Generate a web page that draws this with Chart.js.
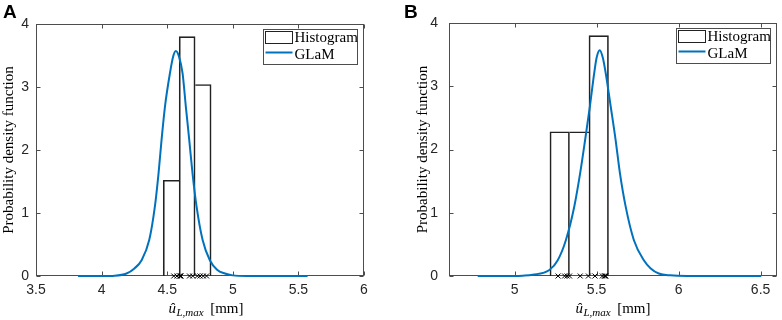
<!DOCTYPE html>
<html>
<head>
<meta charset="utf-8">
<script src="https://cdn.jsdelivr.net/npm/chart.js@4"></script>
<style>
  html, body { margin: 0; padding: 0; background: #fff; }
  #wrap { position: relative; width: 782px; height: 320px; }
  .panel { position: absolute; top: 0; width: 391px; height: 320px; }
</style>
</head>
<body>
<div id="wrap">
  <div class="panel" style="left:0"><canvas id="chartA" width="391" height="320"></canvas></div>
  <div class="panel" style="left:391px"><canvas id="chartB" width="391" height="320"></canvas></div>
</div>
<script>
// --- Data ---
const xTicksA = [3.5, 4, 4.5, 5, 5.5, 6];
const xTicksB = [5, 5.5, 6, 6.5];
const yTicks = [0, 1, 2, 3, 4];

const histEdgesA = [4.470, 4.591, 4.713, 4.835];
const histHeightsA = [1.52, 3.80, 3.04];
const histEdgesB = [5.215, 5.335, 5.453, 5.573];
const histHeightsB = [2.28, 2.28, 3.80];

const samplesA = [4.550, 4.575, 4.595, 4.600, 4.605, 4.670, 4.695, 4.730, 4.750, 4.775, 4.800];
const samplesB = [5.265, 5.305, 5.320, 5.335, 5.400, 5.450, 5.490, 5.535, 5.548, 5.552, 5.556];

const glamXA = [3.82, 4.00, 4.10, 4.19, 4.25, 4.305, 4.363, 4.406, 4.434, 4.457, 4.483, 4.521, 4.545, 4.566,
                4.590, 4.617, 4.642, 4.668, 4.693, 4.724, 4.770, 4.825, 4.880, 4.940, 5.00, 5.10, 5.57];
const glamYA = [0, 0, 0.005, 0.04, 0.12, 0.25, 0.57, 1.10, 1.63, 2.16, 2.69, 3.22, 3.48, 3.57,
                3.48, 3.22, 2.69, 2.16, 1.63, 1.10, 0.57, 0.25, 0.10, 0.04, 0.01, 0, 0];

const glamXB = [4.775, 5.00, 5.05, 5.11, 5.212, 5.263, 5.313, 5.364, 5.400, 5.430, 5.459, 5.485, 5.500, 5.519,
                5.538, 5.556, 5.586, 5.616, 5.642, 5.677, 5.727, 5.788, 5.830, 5.879, 5.950, 6.05, 6.504];
const glamYB = [0, 0, 0.005, 0.02, 0.095, 0.25, 0.57, 1.10, 1.63, 2.15, 2.68, 3.20, 3.45, 3.57,
                3.45, 3.20, 2.68, 2.15, 1.63, 1.10, 0.57, 0.25, 0.12, 0.04, 0.01, 0, 0];

// --- Styles ---
const BLUE = '#0072BD';
const FRAME = '#4d4d4d';
const TICK_FONT = { family: '"Liberation Sans", Arial, sans-serif', size: 14 };
const SERIF = '"Liberation Serif", "Times New Roman", serif';

function pairs(xs, ys) {
  return xs.map((x, i) => ({ x: x, y: ys[i] }));
}

// MATLAB-like box, inward ticks, legend, x label and panel letter
const matlabDecor = {
  id: 'matlabDecor',
  beforeDatasetsDraw(chart) {
    const { ctx, chartArea: ca, scales } = chart;
    ctx.save();
    ctx.strokeStyle = FRAME;
    ctx.lineWidth = 1;
    const l = Math.round(ca.left) + 0.5, r = Math.round(ca.right) - 0.5;
    const t = Math.round(ca.top) + 0.5, b = Math.round(ca.bottom) - 0.5;
    ctx.strokeRect(l, t, r - l, b - t);
    ctx.beginPath();
    scales.x.ticks.forEach(tk => {
      const px = Math.round(scales.x.getPixelForValue(tk.value)) + 0.5;
      ctx.moveTo(px, b); ctx.lineTo(px, b - 4);
      ctx.moveTo(px, t); ctx.lineTo(px, t + 4);
    });
    scales.y.ticks.forEach(tk => {
      const py = Math.round(scales.y.getPixelForValue(tk.value)) + 0.5;
      ctx.moveTo(l, py); ctx.lineTo(l + 4, py);
      ctx.moveTo(r, py); ctx.lineTo(r - 4, py);
    });
    ctx.stroke();
    ctx.restore();
  },
  afterDatasetsDraw(chart) {
    const { ctx, chartArea: ca } = chart;
    const w = 94, h = 35;
    const bx = Math.round(ca.right - 7 - w) + 0.5;
    const by = Math.round(ca.top + 5) + 0.5;
    ctx.save();
    ctx.fillStyle = '#fff';
    ctx.fillRect(bx, by, w, h);
    ctx.strokeStyle = FRAME;
    ctx.lineWidth = 1;
    ctx.strokeRect(bx, by, w, h);
    // histogram swatch
    ctx.strokeStyle = '#222';
    ctx.strokeRect(bx + 2, by + 2, 27, 12);
    // line swatch
    ctx.strokeStyle = BLUE;
    ctx.lineWidth = 2;
    ctx.beginPath();
    ctx.moveTo(bx + 2, by + 23);
    ctx.lineTo(bx + 29, by + 23);
    ctx.stroke();
    ctx.fillStyle = '#000';
    ctx.font = '15px ' + SERIF;
    ctx.textBaseline = 'alphabetic';
    ctx.fillText('Histogram', bx + 31, by + 12.5);
    ctx.fillText('GLaM', bx + 31, by + 29);
    ctx.restore();
  },
  afterDraw(chart, args, opts) {
    const { ctx, chartArea: ca } = chart;
    ctx.save();
    ctx.fillStyle = '#000';
    ctx.textBaseline = 'alphabetic';
    // x label: u-hat with subscript, then [mm]
    const base = 313;
    const fMain = 'italic 15px ' + SERIF;
    const fSub = 'italic 11px ' + SERIF;
    const fUnit = '15px ' + SERIF;
    ctx.font = fMain; const w1 = ctx.measureText('û').width;
    ctx.font = fSub; const w2 = ctx.measureText('L,max').width;
    ctx.font = fUnit; const w3 = ctx.measureText('[mm]').width;
    const gap = 7;
    let x = (ca.left + ca.right) / 2 - (w1 + w2 + gap + w3) / 2 + opts.titleShift;
    ctx.font = fMain; ctx.fillText('û', x, base); x += w1;
    ctx.font = fSub; ctx.fillText('L,max', x + 0.5, base + 3); x += w2 + gap;
    ctx.font = fUnit; ctx.fillText('[mm]', x, base);
    // panel letter
    ctx.font = 'bold 19px "Liberation Sans", Arial, sans-serif';
    ctx.fillText(opts.letter, opts.letterX, 18);
    ctx.restore();
  }
};

function makeChart(id, p) {
  const centers = p.edges.slice(0, -1).map((e, i) => (e + p.edges[i + 1]) / 2);
  const heights = p.heights;
  return new Chart(document.getElementById(id), {
    type: 'bar',
    data: {
      datasets: [
        {
          type: 'line',
          label: 'GLaM',
          order: 1,
          data: pairs(p.curveX, p.curveY),
          borderColor: BLUE,
          borderWidth: 2,
          pointRadius: 0,
          cubicInterpolationMode: 'monotone',
          fill: false,
          clip: false
        },
        {
          type: 'bar',
          label: 'Histogram',
          order: 2,
          data: pairs(centers, heights),
          backgroundColor: 'rgba(0,0,0,0)',
          borderColor: '#222',
          borderSkipped: false,
          borderWidth: (c) => {
            const i = c.dataIndex;
            return {
              top: 1, bottom: 0,
              left: (i === 0 || heights[i] > heights[i - 1]) ? 1 : 0,
              right: (i === heights.length - 1 || heights[i] >= heights[i + 1]) ? 1 : 0
            };
          },
          barPercentage: 1,
          categoryPercentage: 1
        },
        {
          type: 'line',
          label: 'samples',
          order: 0,
          data: p.samples.map(v => ({ x: v, y: 0 })),
          showLine: false,
          pointStyle: 'crossRot',
          pointRadius: 3.5,
          pointBorderWidth: 1,
          pointBorderColor: '#000',
          clip: false
        }
      ]
    },
    options: {
      responsive: false,
      animation: false,
      events: [],
      layout: { padding: { left: 0, right: p.padRight, top: p.padTop, bottom: 0 } },
      plugins: {
        legend: { display: false },
        tooltip: { enabled: false },
        matlabDecor: { letter: p.letter, letterX: p.letterX, titleShift: p.titleShift }
      },
      scales: {
        x: {
          type: 'linear',
          min: p.xMin,
          max: p.xMax,
          offset: false,
          grid: { display: false, drawTicks: false, offset: false },
          border: { display: false },
          afterBuildTicks: (s) => { s.ticks = p.xTicks.map(v => ({ value: v })); },
          afterFit: (s) => { s.height = 44; },
          ticks: {
            font: TICK_FONT,
            color: '#262626',
            padding: 6,
            maxRotation: 0,
            callback: (v) => String(v)
          }
        },
        y: {
          type: 'linear',
          min: 0,
          max: 4,
          grid: { display: false, drawTicks: false },
          border: { display: false },
          afterBuildTicks: (s) => { s.ticks = yTicks.map(v => ({ value: v })); },
          afterFit: (s) => { s.width = p.yWidth; },
          ticks: {
            font: TICK_FONT,
            color: '#262626',
            padding: p.yTickPad,
            callback: (v) => String(v)
          },
          title: {
            display: true,
            text: 'Probability density function',
            font: { family: SERIF, size: 15 },
            color: '#000',
            padding: { top: p.yTitlePad, bottom: 0 }
          }
        }
      }
    },
    plugins: [matlabDecor]
  });
}

makeChart('chartA', {
  edges: histEdgesA, heights: histHeightsA, samples: samplesA,
  curveX: glamXA, curveY: glamYA,
  xTicks: xTicksA, xMin: 3.5, xMax: 6,
  padRight: 27, padTop: 24, yWidth: 36, yTickPad: 7, yTitlePad: 0.5,
  letter: 'A', letterX: 3, titleShift: 6
});

makeChart('chartB', {
  edges: histEdgesB, heights: histHeightsB, samples: samplesB,
  curveX: glamXB, curveY: glamYB,
  xTicks: xTicksB, xMin: 4.6, xMax: 6.6,
  padRight: 3, padTop: 23, yWidth: 58, yTickPad: 11, yTitlePad: 23,
  letter: 'B', letterX: 13, titleShift: 0
});
</script>
</body>
</html>
